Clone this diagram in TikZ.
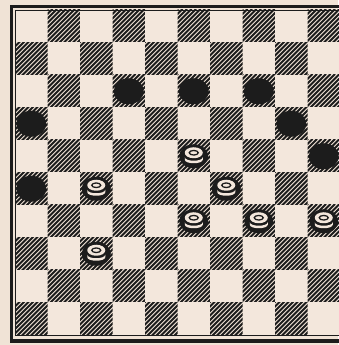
\documentclass[tikz,border=0pt]{standalone}
\definecolor{paper}{HTML}{F0E3D6}
\definecolor{lightsq}{HTML}{F3E7DC}
\definecolor{ink}{HTML}{1C1C1C}
\tikzset{
  hatchline/.style={draw=ink, line width=1.9pt},
  frameline/.style={draw=ink, line width=3.2pt},
  boardedge/.style={draw=ink, line width=0.8pt},
  blackpiece/.style={fill=ink},
  piecebody/.style={fill=ink},
  piecetop/.style={fill=lightsq},
  piecering/.style={draw=ink, line width=1.3pt},
}
\begin{document}
\begin{tikzpicture}[x=1pt,y=1pt]
\useasboundingbox (0,0) rectangle (338,345);
\fill[paper] (0,0) rectangle (338,345);
\def\sq{32.5}
% squares
\foreach \r in {1,...,10}{
  \foreach \c in {1,...,10}{
    \pgfmathsetmacro\xo{15+(\c-1)*\sq}
    \pgfmathsetmacro\yt{335-(\r-1)*\sq}
    \pgfmathtruncatemacro\odd{mod(\r+\c,2)}
    \ifnum\odd=1
      \begin{scope}
        \clip (\xo,\yt) rectangle ++(\sq,-\sq);
        \foreach \k in {-34,-29.5,...,34}
          \draw[hatchline] (\xo+\k,\yt-\sq-1) -- ++(\sq+2,\sq+2);
      \end{scope}
    \else
      \fill[lightsq] (\xo,\yt) rectangle ++(\sq,-\sq);
    \fi
  }
}
% board edge and frame
\draw[boardedge] (15,10) rectangle (340,335);
\draw[frameline] (11.5,4.5) -- (11.5,338.5);
\draw[frameline] (10,338.5) -- (345,338.5);
\draw[draw=ink, line width=4pt] (10,3.5) -- (345,3.5);
% black pieces
\foreach \c/\r in {4/3,6/3,8/3,1/4,9/4,10/5,1/6}{
  \pgfmathsetmacro\cx{15+(\c-0.5)*\sq}
  \pgfmathsetmacro\cy{335-(\r-0.5)*\sq}
  \fill[blackpiece] (\cx,\cy) ellipse [x radius=15, y radius=13];
}
% white pieces
\foreach \c/\r in {6/5,3/6,7/6,6/7,8/7,10/7,3/8}{
  \pgfmathsetmacro\cx{15+(\c-0.5)*\sq}
  \pgfmathsetmacro\cy{335-(\r-0.5)*\sq}
  \fill[piecebody] (\cx,\cy) ellipse [x radius=14.5, y radius=12];
  \fill[piecetop] (\cx,\cy+3.5) ellipse [x radius=9, y radius=5.5];
  \draw[piecering] (\cx,\cy+3.5) ellipse [x radius=4.5, y radius=2.3];
  \fill[piecetop] (\cx-9,\cy-1) arc[start angle=180, end angle=360, x radius=9, y radius=3.5]
     -- (\cx+9,\cy-3.5) arc[start angle=0, end angle=-180, x radius=9, y radius=3.5] -- cycle;
}
\end{tikzpicture}
\end{document}
